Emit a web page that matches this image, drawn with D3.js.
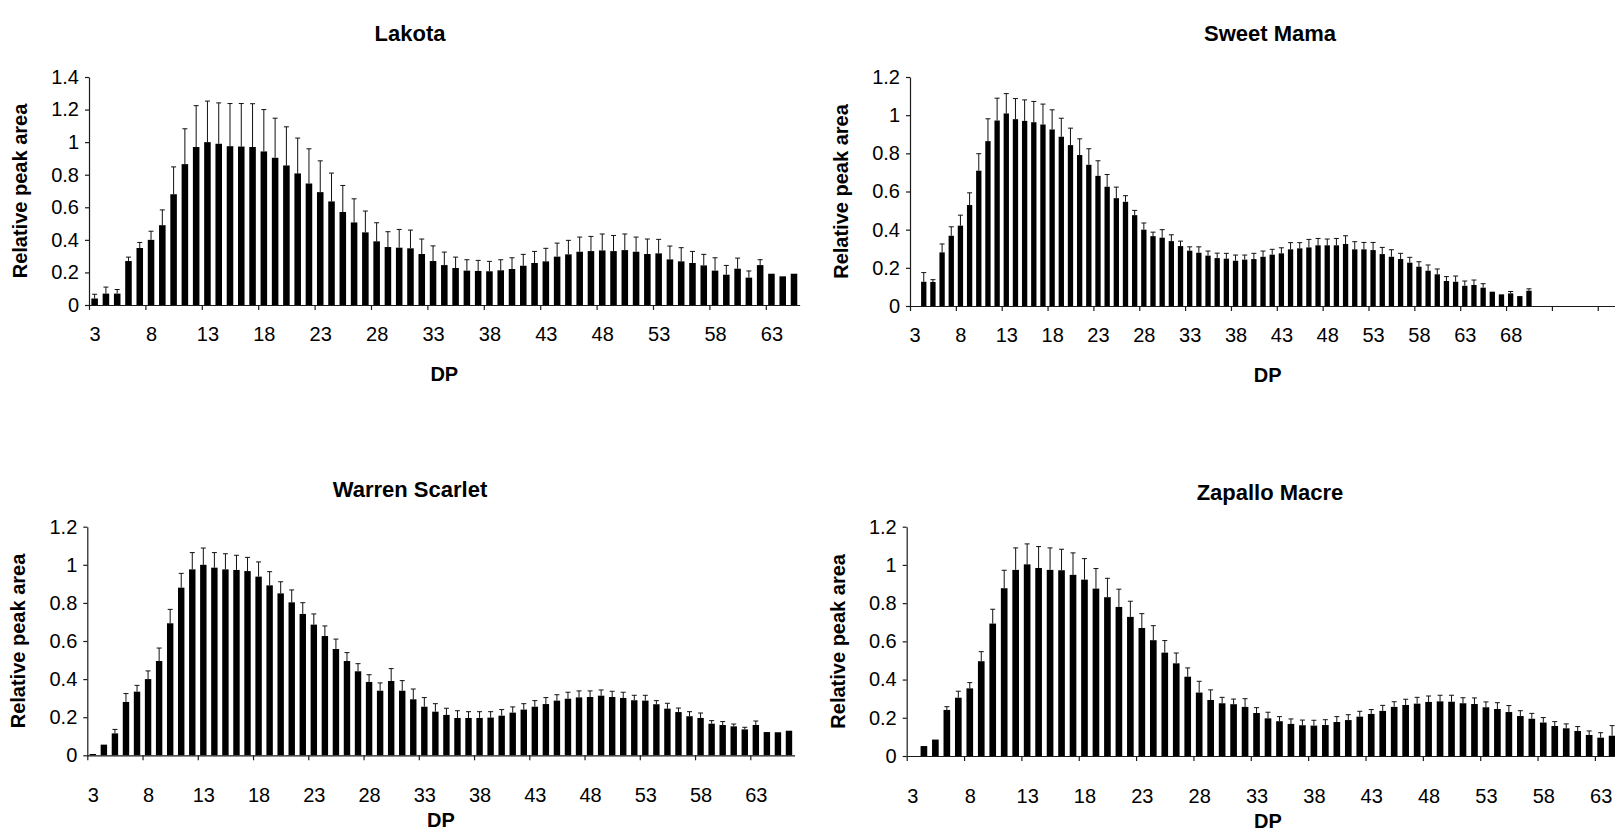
<!DOCTYPE html>
<html>
<head>
<meta charset="utf-8"/>
<title>Relative peak area by DP</title>
<script src="https://d3js.org/d3.v7.min.js"></script>
<style>
  body { margin: 0; background: #fff; }
  svg text { font-family: "Liberation Sans", Arial, sans-serif; fill: #000; }
  .axis path, .axis line { stroke: #1a1a1a; stroke-width: 1.2; }
  .axis text { font-size: 20px; }
  .title { font-size: 22px; font-weight: bold; }
  .axis-title { font-size: 20px; font-weight: bold; }
</style>
</head>
<body>
<div id="chart"></div>
<script>
// every series starts at DP 3, one value per DP
var lakotaMean = [0.04, 0.07, 0.07, 0.27, 0.35, 0.40, 0.49, 0.68, 0.865, 0.97,
  1.0, 0.99, 0.975, 0.973, 0.97, 0.943, 0.904, 0.857, 0.808, 0.746,
  0.693, 0.636, 0.571, 0.507, 0.446, 0.391, 0.356, 0.352, 0.348, 0.313,
  0.27, 0.245, 0.227, 0.211, 0.209, 0.207, 0.213, 0.221, 0.241, 0.258,
  0.268, 0.297, 0.311, 0.327, 0.331, 0.335, 0.331, 0.337, 0.327, 0.313,
  0.317, 0.28, 0.268, 0.258, 0.243, 0.211, 0.186, 0.223, 0.168, 0.245,
  0.192, 0.176, 0.192];
var lakotaSd = [0.026, 0.04, 0.025, 0.024, 0.034, 0.053, 0.094, 0.168, 0.217, 0.254,
  0.252, 0.251, 0.262, 0.264, 0.266, 0.257, 0.243, 0.237, 0.217, 0.213,
  0.192, 0.174, 0.163, 0.145, 0.131, 0.114, 0.094, 0.112, 0.112, 0.092,
  0.093, 0.08, 0.067, 0.067, 0.065, 0.061, 0.065, 0.069, 0.07, 0.071,
  0.08, 0.083, 0.086, 0.09, 0.09, 0.101, 0.096, 0.099, 0.09, 0.092,
  0.086, 0.082, 0.084, 0.071, 0.068, 0.079, 0.057, 0.065, 0.041, 0.033,
  0, 0, 0];

var sweetMamaMean = [0, 0.127, 0.126, 0.281, 0.368, 0.421, 0.529, 0.709, 0.864, 0.972,
  1.009, 0.979, 0.97, 0.963, 0.951, 0.925, 0.887, 0.843, 0.791, 0.74,
  0.682, 0.625, 0.565, 0.546, 0.476, 0.4, 0.366, 0.358, 0.34, 0.314,
  0.29, 0.279, 0.264, 0.251, 0.248, 0.237, 0.243, 0.246, 0.258, 0.269,
  0.276, 0.297, 0.302, 0.307, 0.318, 0.318, 0.318, 0.325, 0.297, 0.297,
  0.293, 0.272, 0.258, 0.246, 0.227, 0.206, 0.185, 0.166, 0.131, 0.127,
  0.106, 0.11, 0.096, 0.075, 0.061, 0.066, 0.052, 0.08];
var sweetMamaSd = [0, 0.048, 0.012, 0.044, 0.047, 0.055, 0.064, 0.089, 0.117, 0.117,
  0.104, 0.108, 0.11, 0.109, 0.107, 0.103, 0.097, 0.089, 0.085, 0.084,
  0.079, 0.064, 0.058, 0.032, 0.025, 0.035, 0.021, 0.042, 0.033, 0.026,
  0.02, 0.031, 0.024, 0.026, 0.028, 0.03, 0.024, 0.03, 0.03, 0.028,
  0.029, 0.035, 0.03, 0.042, 0.036, 0.033, 0.036, 0.043, 0.04, 0.036,
  0.04, 0.035, 0.037, 0.03, 0.028, 0.026, 0.03, 0.028, 0.023, 0.03,
  0.025, 0.026, 0.021, 0, 0, 0.01, 0, 0.01];

var warrenMean = [0.007, 0.056, 0.115, 0.28, 0.334, 0.4, 0.495, 0.693, 0.88, 0.976,
  1.0, 0.985, 0.976, 0.973, 0.967, 0.938, 0.892, 0.85, 0.803, 0.742,
  0.686, 0.626, 0.558, 0.495, 0.441, 0.385, 0.339, 0.39, 0.339, 0.294,
  0.255, 0.229, 0.212, 0.196, 0.196, 0.196, 0.198, 0.208, 0.224, 0.24,
  0.255, 0.269, 0.287, 0.297, 0.304, 0.306, 0.313, 0.306, 0.301, 0.289,
  0.287, 0.268, 0.245, 0.227, 0.205, 0.196, 0.166, 0.159, 0.152, 0.136,
  0.159, 0.122, 0.121, 0.129];
var warrenSd = [0, 0, 0.021, 0.044, 0.033, 0.043, 0.068, 0.073, 0.075, 0.088,
  0.088, 0.079, 0.082, 0.077, 0.072, 0.077, 0.072, 0.061, 0.065, 0.059,
  0.056, 0.053, 0.052, 0.044, 0.04, 0.038, 0.041, 0.065, 0.053, 0.054,
  0.048, 0.042, 0.035, 0.038, 0.033, 0.033, 0.031, 0.032, 0.03, 0.031,
  0.032, 0.034, 0.031, 0.034, 0.034, 0.032, 0.03, 0.03, 0.03, 0.026,
  0.028, 0.019, 0.028, 0.021, 0.024, 0.026, 0.016, 0.018, 0.012, 0.011,
  0.021, 0, 0, 0];

var zapalloMean = [0, 0.052, 0.086, 0.241, 0.305, 0.354, 0.496, 0.693, 0.878, 0.974,
  1.003, 0.984, 0.974, 0.972, 0.948, 0.923, 0.876, 0.831, 0.78, 0.728,
  0.67, 0.606, 0.541, 0.485, 0.415, 0.332, 0.293, 0.276, 0.271, 0.257,
  0.225, 0.197, 0.182, 0.168, 0.161, 0.159, 0.162, 0.178, 0.188, 0.206,
  0.22, 0.236, 0.257, 0.267, 0.274, 0.283, 0.286, 0.284, 0.276, 0.272,
  0.255, 0.246, 0.23, 0.209, 0.195, 0.175, 0.157, 0.145, 0.131, 0.11,
  0.096, 0.106];
var zapalloSd = [0, 0, 0, 0.017, 0.034, 0.03, 0.05, 0.075, 0.094, 0.115,
  0.107, 0.112, 0.115, 0.11, 0.115, 0.11, 0.105, 0.099, 0.093, 0.082,
  0.075, 0.076, 0.063, 0.054, 0.046, 0.059, 0.053, 0.031, 0.027, 0.043,
  0.028, 0.032, 0.024, 0.026, 0.027, 0.028, 0.028, 0.028, 0.028, 0.028,
  0.023, 0.029, 0.027, 0.03, 0.033, 0.031, 0.032, 0.034, 0.029, 0.032,
  0.028, 0.033, 0.034, 0.028, 0.028, 0.026, 0.023, 0.023, 0.023, 0.021,
  0.026, 0.053];

var xTickLabels = [3, 8, 13, 18, 23, 28, 33, 38, 43, 48, 53, 58, 63];
var xTickLabelsLong = [3, 8, 13, 18, 23, 28, 33, 38, 43, 48, 53, 58, 63, 68];
var xTickMarks = [3, 8, 13, 18, 23, 28, 33, 38, 43, 48, 53, 58, 63, 68, 73, 78];
var yTicksLakota = [0, 0.2, 0.4, 0.6, 0.8, 1, 1.2, 1.4];
var yTicks = [0, 0.2, 0.4, 0.6, 0.8, 1, 1.2];

var width = 1615, height = 831;
var firstDP = 3;

// layout of the four panels (scan is a bit uneven, so each has its own box)
// lp = tick label padding, dpY = offset of the "DP" baseline below the axis
var panels = [
  {title: "Lakota", mean: lakotaMean, sd: lakotaSd, nCats: 63, labels: xTickLabels,
   x0: 89, step: 11.28, y0: 305, yTop: 77, yMax: 1.4, ticks: yTicksLakota,
   tx: 410, ty: 41, lp: 22, dpY: 76},
  {title: "Sweet Mama", mean: sweetMamaMean, sd: sweetMamaSd, nCats: 78, labels: xTickLabelsLong,
   x0: 910, step: 9.17, y0: 306, yTop: 77, yMax: 1.2, ticks: yTicks,
   tx: 1270, ty: 41, lp: 22, dpY: 76},
  {title: "Warren Scarlet", mean: warrenMean, sd: warrenSd, nCats: 64, labels: xTickLabels,
   x0: 87.3, step: 11.05, y0: 755.3, yTop: 526.7, yMax: 1.2, ticks: yTicks,
   tx: 410, ty: 497, lp: 33, dpY: 72},
  {title: "Zapallo Macre", mean: zapalloMean, sd: zapalloSd, nCats: 63, labels: xTickLabels,
   x0: 906.7, step: 11.47, y0: 756, yTop: 526.7, yMax: 1.2, ticks: yTicks,
   tx: 1270, ty: 500, lp: 33, dpY: 72}
];

var svg = d3.select("#chart").append("svg")
    .attr("width", width)
    .attr("height", height);

panels.forEach(function(p) {
    var g = svg.append("g");
    var lastDP = firstDP + p.nCats - 1;
    var x = d3.scaleLinear()
        .domain([firstDP - 0.5, lastDP + 0.5])
        .range([p.x0, p.x0 + p.nCats * p.step]);
    var y = d3.scaleLinear()
        .domain([0, p.yMax])
        .range([p.y0, p.yTop]);
    var bw = p.step * 0.58;

    var rows = p.mean.map(function(v, i) {
        return {dp: firstDP + i, v: v, sd: p.sd[i]};
    });

    g.selectAll(".bar")
        .data(rows.filter(function(d) { return d.v > 0; }))
        .enter().append("rect")
        .attr("class", "bar")
        .attr("x", function(d) { return x(d.dp) - bw / 2; })
        .attr("y", function(d) { return y(d.v); })
        .attr("width", bw)
        .attr("height", function(d) { return y(0) - y(d.v); })
        .attr("fill", "#000");

    var err = g.selectAll(".err")
        .data(rows.filter(function(d) { return d.sd > 0; }))
        .enter().append("g")
        .attr("class", "err")
        .attr("stroke", "#111")
        .attr("stroke-width", 1);
    err.append("line")
        .attr("x1", function(d) { return x(d.dp); })
        .attr("x2", function(d) { return x(d.dp); })
        .attr("y1", function(d) { return y(d.v); })
        .attr("y2", function(d) { return y(d.v + d.sd); });
    err.append("line")
        .attr("x1", function(d) { return x(d.dp) - 2.5; })
        .attr("x2", function(d) { return x(d.dp) + 2.5; })
        .attr("y1", function(d) { return y(d.v + d.sd); })
        .attr("y2", function(d) { return y(d.v + d.sd); });

    // tick marks sit between categories, labels under the categories
    g.append("g")
        .attr("class", "axis")
        .attr("transform", "translate(0," + p.y0 + ")")
        .call(d3.axisBottom(x)
            .tickValues(xTickMarks.filter(function(d) { return d <= lastDP; })
                .map(function(d) { return d - 0.5; }))
            .tickSize(5).tickSizeOuter(0).tickFormat(""));

    var lab = g.append("g")
        .attr("class", "axis")
        .attr("transform", "translate(0," + p.y0 + ")")
        .call(d3.axisBottom(x).tickValues(p.labels).tickSize(0).tickPadding(p.lp));
    lab.select(".domain").remove();

    g.append("g")
        .attr("class", "axis")
        .attr("transform", "translate(" + p.x0 + ",0)")
        .call(d3.axisLeft(y).tickValues(p.ticks).tickSize(4).tickSizeOuter(0)
            .tickPadding(6).tickFormat(function(d) { return String(d); }));

    g.append("text")
        .attr("class", "title")
        .attr("x", p.tx)
        .attr("y", p.ty)
        .attr("text-anchor", "middle")
        .text(p.title);

    g.append("text")
        .attr("class", "axis-title")
        .attr("x", (x.range()[0] + x.range()[1]) / 2)
        .attr("y", p.y0 + p.dpY)
        .attr("text-anchor", "middle")
        .text("DP");

    g.append("text")
        .attr("class", "axis-title")
        .attr("transform", "translate(" + (p.x0 - 62) + "," + ((p.y0 + p.yTop) / 2) + ") rotate(-90)")
        .attr("text-anchor", "middle")
        .text("Relative peak area");
});
</script>
</body>
</html>
